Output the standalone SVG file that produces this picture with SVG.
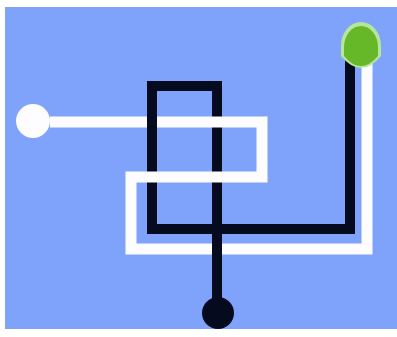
<svg xmlns="http://www.w3.org/2000/svg" width="397" height="337" viewBox="0 0 397 337">
<style>
.w{fill:none;stroke:#fdfdff;stroke-width:11;stroke-linejoin:miter;stroke-linecap:butt}
.b{fill:none;stroke:#050a1e;stroke-width:10;stroke-linejoin:miter;stroke-linecap:butt}
</style>
<rect x="0" y="0" width="397" height="337" fill="#ffffff"/>
<rect x="5" y="7" width="392" height="322" fill="#7fa3fb"/>
<g id="connectors">
<path class="b" d="M217,300 V86 H152 V229 H350 V58"/>
<path class="w" d="M50,122 H262 V177 H131 V249 H367 V58"/>
<path class="b" d="M152,100 V140"/>
<path class="b" d="M217,232 V266"/>
</g>
<g id="start">
<circle cx="33" cy="121" r="17" fill="#fdfdff"/>
</g>
<g id="end-black">
<circle cx="218" cy="313" r="16" fill="#050a1e"/>
</g>
<g id="end-green">
<path d="M341,56 V46 A20,24 0 0 1 381,46 V56 Q361,80 341,56 Z" fill="#b6e69a"/>
<path d="M344,56 V47 A17,21 0 0 1 378,47 V56 Q361,76 344,56 Z" fill="#66b828"/>
</g>
</svg>
